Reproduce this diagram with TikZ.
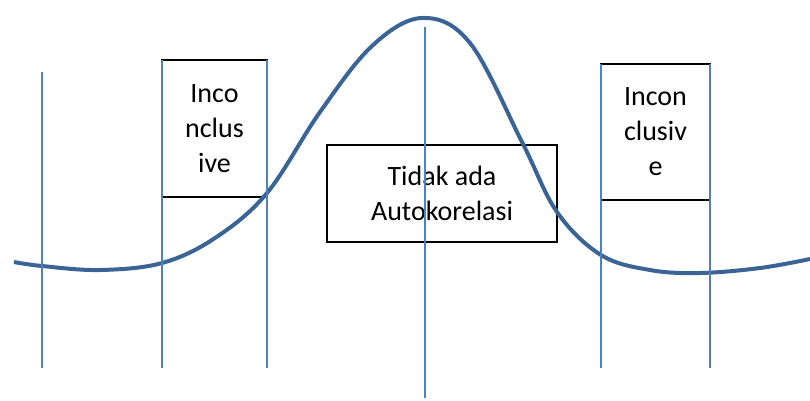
\documentclass[tikz,border=0pt]{standalone}
\usepackage{fontspec}
\setmainfont{Carlito}
\definecolor{curveblue}{HTML}{3B6496}
\definecolor{lineblue}{HTML}{4F81BD}
\begin{document}
\begin{tikzpicture}[x=1pt,y=-1pt,
  boxstyle/.style={draw=black,line width=1.3pt,fill=white,inner sep=0pt,align=center,
     font=\fontsize{28}{35}\selectfont},
  vline/.style={lineblue,line width=1.6pt},
  bell/.style={curveblue,line width=4pt}]
\useasboundingbox (0,0) rectangle (810,400);
% boxes
\node[boxstyle,minimum width=105pt,minimum height=137pt] (b1) at (214.5,128.5) {Inco\\nclus\\ive};
\node[boxstyle,minimum width=109pt,minimum height=136pt] (b2) at (655.5,132) {Incon\\clusiv\\e};
\node[boxstyle,minimum width=230pt,minimum height=97pt] (b3) at (442,193.5) {Tidak ada\\Autokorelasi};
% curve
\draw[bell] plot[smooth,tension=0.6] coordinates {(14,262) (42,266) (100,270) (162,263) (215,238) (267,193) (320,112) (372,46) (422,18) (470,43) (522,142) (557,212) (601,255) (650,270) (700,273) (760,268) (810,259)};
% vertical lines
\coordinate (t1) at (42,72);   \coordinate (u1) at (42,368);
\coordinate (t2) at (162,60);  \coordinate (u2) at (162,368);
\coordinate (t3) at (267,60);  \coordinate (u3) at (267,368);
\coordinate (t4) at (425,27);  \coordinate (u4) at (425,398);
\coordinate (t5) at (601,64);  \coordinate (u5) at (601,368);
\coordinate (t6) at (710,64);  \coordinate (u6) at (710,368);
\foreach \i in {1,...,6} {\draw[vline] (t\i) -- (u\i);}
\end{tikzpicture}
\end{document}
